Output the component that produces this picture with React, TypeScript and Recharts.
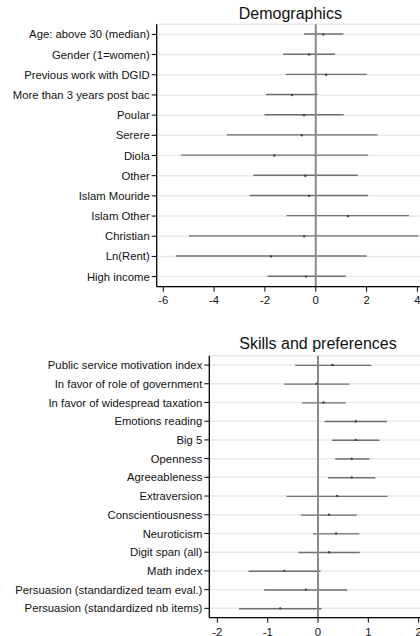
import React from "react";
import {
  ComposedChart,
  Bar,
  Line,
  CartesianGrid,
  ReferenceLine,
  XAxis,
  YAxis,
} from "recharts";

const FONT = "'Liberation Sans', Arial, Helvetica, sans-serif";

const demoLabels = [
  "Age: above 30 (median)",
  "Gender (1=women)",
  "Previous work with DGID",
  "More than 3 years post bac",
  "Poular",
  "Serere",
  "Diola",
  "Other",
  "Islam Mouride",
  "Islam Other",
  "Christian",
  "Ln(Rent)",
  "High income",
];
const demoEst = [0.3, -0.26, 0.41, -0.94, -0.46, -0.55, -1.63, -0.41, -0.26, 1.27, -0.46, -1.76, -0.38];
const demoLo = [-0.46, -1.28, -1.18, -1.96, -2.02, -3.5, -5.3, -2.46, -2.61, -1.14, -4.99, -5.51, -1.9];
const demoHi = [1.09, 0.76, 2.0, 0.07, 1.1, 2.43, 2.06, 1.65, 2.06, 3.67, 4.05, 2.0, 1.19];
const demoTicks = [-6, -4, -2, 0, 2, 4];

const skillLabels = [
  "Public service motivation index",
  "In favor of role of government",
  "In favor of widespread taxation",
  "Emotions reading",
  "Big 5",
  "Openness",
  "Agreeableness",
  "Extraversion",
  "Conscientiousness",
  "Neuroticism",
  "Digit span (all)",
  "Math index",
  "Persuasion (standardized team eval.)",
  "Persuasion (standardized nb items)",
];
const skillEst = [0.29, -0.03, 0.11, 0.75, 0.75, 0.67, 0.67, 0.38, 0.22, 0.36, 0.22, -0.67, -0.24, -0.75];
const skillLo = [-0.45, -0.67, -0.32, 0.13, 0.28, 0.34, 0.2, -0.62, -0.34, -0.1, -0.39, -1.38, -1.07, -1.57];
const skillHi = [1.06, 0.62, 0.55, 1.37, 1.22, 1.02, 1.14, 1.38, 0.77, 0.82, 0.83, 0.05, 0.58, 0.07];
const skillTicks = [-2, -1, 0, 1, 2];

function buildRows(labels: string[], est: number[], lo: number[], hi: number[]) {
  return labels.map((label, i) => ({ label, est: est[i], ci: [lo[i], hi[i]] }));
}

// single-line category label, right-aligned against the tick
function LabelTick(props: any) {
  const { x, y, payload } = props;
  return (
    <text
      x={x}
      y={y}
      dy="0.36em"
      textAnchor="end"
      fill="#111"
      fontSize={11.3}
      fontFamily={FONT}
    >
      {payload.value}
    </text>
  );
}

type PanelProps = {
  title: string;
  rows: { label: string; est: number; ci: number[] }[];
  domain: [number, number];
  ticks: number[];
  top: number;
  height: number;
  axisWidth: number;
  marginTop: number;
  marginRight: number;
  xAxisHeight: number;
  tickMargin: number;
  titleTop: number;
};

function CoefPanel(p: PanelProps) {
  const width = 440;
  const plotLeft = p.axisWidth;
  const plotRight = width - p.marginRight;
  const center = (plotLeft + plotRight) / 2;
  return (
    <>
      <div
        style={{
          position: "absolute",
          top: p.titleTop,
          left: center - 150,
          width: 300,
          textAlign: "center",
          fontFamily: FONT,
          fontSize: 16,
          color: "#111",
          lineHeight: "18px",
        }}
      >
        {p.title}
      </div>
      <div style={{ position: "absolute", top: p.top, left: 0 }}>
        <ComposedChart
          width={width}
          height={p.height}
          data={p.rows}
          layout="vertical"
          margin={{ top: p.marginTop, right: p.marginRight, bottom: 0, left: 0 }}
        >
          <CartesianGrid horizontal vertical={false} stroke="#e9e9e9" strokeWidth={1.5} />
          <XAxis
            type="number"
            domain={p.domain}
            ticks={p.ticks}
            allowDataOverflow
            height={p.xAxisHeight}
            tickSize={5}
            tickMargin={p.tickMargin}
            axisLine={{ stroke: "#000", strokeWidth: 1.3 }}
            tickLine={{ stroke: "#000" }}
            tick={{ fill: "#111", fontSize: 11.3, fontFamily: FONT }}
          />
          <XAxis
            xAxisId="top"
            type="number"
            orientation="top"
            domain={p.domain}
            allowDataOverflow
            height={0}
            tick={false}
            tickLine={false}
            axisLine={{ stroke: "#000", strokeWidth: 1.3 }}
          />
          <YAxis
            type="category"
            dataKey="label"
            width={p.axisWidth}
            interval={0}
            tickSize={5}
            tickMargin={2}
            axisLine={{ stroke: "#000", strokeWidth: 1.3 }}
            tickLine={{ stroke: "#000" }}
            tick={<LabelTick />}
          />
          <ReferenceLine x={0} stroke="#8a8a8a" strokeWidth={2} />
          <Bar dataKey="ci" barSize={1.4} fill="#6f6f6f" isAnimationActive={false} />
          <Line
            dataKey="est"
            stroke="none"
            dot={{ r: 1.2, fill: "#444", stroke: "none" }}
            activeDot={false}
            isAnimationActive={false}
          />
        </ComposedChart>
      </div>
    </>
  );
}

export default function App() {
  const demoRows = buildRows(demoLabels, demoEst, demoLo, demoHi);
  const skillRows = buildRows(skillLabels, skillEst, skillLo, skillHi);
  return (
    <div
      style={{
        position: "absolute",
        top: 0,
        left: 0,
        width: 420,
        height: 636,
        overflow: "hidden",
        background: "#fff",
      }}
    >
      <CoefPanel
        title="Demographics"
        rows={demoRows}
        domain={[-6.26, 4.26]}
        ticks={demoTicks}
        top={0}
        height={310}
        axisWidth={156.7}
        marginTop={24.3}
        marginRight={16}
        xAxisHeight={23.3}
        tickMargin={4}
        titleTop={5}
      />
      <CoefPanel
        title="Skills and preferences"
        rows={skillRows}
        domain={[-2.16, 2.16]}
        ticks={skillTicks}
        top={330}
        height={320}
        axisWidth={209.3}
        marginTop={25.7}
        marginRight={13.3}
        xAxisHeight={32.3}
        tickMargin={5}
        titleTop={335}
      />
    </div>
  );
}
